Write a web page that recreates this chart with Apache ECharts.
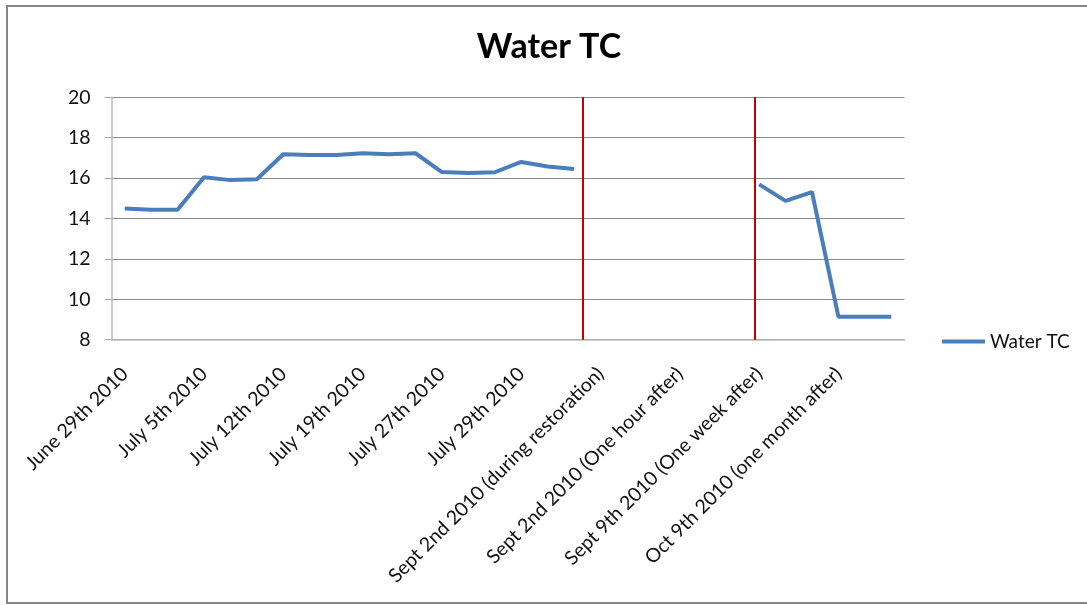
<!DOCTYPE html>
<html>
<head>
<meta charset="utf-8">
<script src="https://cdn.jsdelivr.net/npm/echarts@6/dist/echarts.min.js"></script>
<style>
    html, body { margin: 0; padding: 0; background: #fff; }
    #chart { width: 1087px; height: 605px; }
</style>
</head>
<body>
<div id="chart"></div>
<script>
    // 30 sample points, only every third one is labelled on the axis
    const categories = [
        'June 29th 2010', '', '',
        'July 5th 2010', '', '',
        'July 12th 2010', '', '',
        'July 19th 2010', '', '',
        'July 27th 2010', '', '',
        'July 29th 2010', '', '',
        'Sept 2nd 2010 (during restoration)', '', '',
        'Sept 2nd 2010 (One hour after)', '', '',
        'Sept 9th 2010 (One week after)', '', '',
        'Oct 9th 2010 (one month after)', '', ''
    ]
    const waterTC = [
        14.49, 14.43, 14.43, 16.04, 15.9, 15.94,
        17.18, 17.14, 17.14, 17.23, 17.18, 17.23,
        16.3, 16.25, 16.29, 16.8, 16.57, 16.45,
        null, null, null, null, null, null,
        15.69, 14.87, 15.31, 9.14, 9.14, 9.14
    ]
    // red separators, in category-width units from the left edge
    const dividers = [17.84, 24.35]
    const yTicks = { min: 8, max: 20, interval: 2 }

    const font = 'Lato'
    const chart = echarts.init(document.getElementById('chart'))
    chart.setOption({
        animation: false,
        backgroundColor: '#fff',
        title: {
            text: 'Water TC',
            left: 544,
            textAlign: 'center',
            top: 25,
            textStyle: { fontFamily: font, fontWeight: 'bold', fontSize: 34, color: '#000' }
        },
        legend: {
            left: 937,
            top: 327,
            itemWidth: 43,
            itemHeight: 4,
            itemGap: 5,
            data: [{ name: 'Water TC', icon: 'rect' }],
            textStyle: { fontFamily: font, fontSize: 19, color: '#111' }
        },
        graphic: [{
            type: 'rect',
            shape: { x: 7, y: 6, width: 1100, height: 597 },
            style: { fill: 'none', stroke: '#868686', lineWidth: 2 },
            silent: true
        }],
        grid: { left: 111.5, right: 182.5, top: 97.3, bottom: 265.3 },
        xAxis: [{
            type: 'category',
            data: categories,
            boundaryGap: true,
            axisLine: { lineStyle: { color: '#bbb', width: 1.5 } },
            axisTick: { interval: 0, length: 6, lineStyle: { color: '#aaa' } },
            axisLabel: {
                interval: 2,
                rotate: 45,
                margin: 31,
                fontFamily: font,
                fontSize: 19.5,
                color: '#111'
            }
        }, {
            type: 'value',
            min: 0,
            max: 30,
            show: false
        }],
        yAxis: {
            type: 'value',
            min: yTicks.min,
            max: yTicks.max,
            interval: yTicks.interval,
            axisLine: { show: true, lineStyle: { color: '#bbb', width: 1.5 } },
            axisTick: { show: true, length: 7, lineStyle: { color: '#aaa' } },
            splitLine: { lineStyle: { color: '#8c8c8c' } },
            axisLabel: { margin: 21, fontFamily: font, fontSize: 19.5, color: '#111' }
        },
        series: [{
            name: 'Water TC',
            type: 'line',
            data: waterTC,
            connectNulls: false,
            symbol: 'none',
            color: '#4A7EBB',
            lineStyle: { width: 4, color: '#4A7EBB' },
            z: 3
        }, {
            name: 'dividers',
            type: 'line',
            xAxisIndex: 1,
            data: [],
            symbol: 'none',
            silent: true,
            markLine: {
                symbol: 'none',
                silent: true,
                label: { show: false },
                lineStyle: { color: '#C00000', width: 2, type: 'solid' },
                data: dividers.map(v => ({ xAxis: v }))
            },
            z: 4
        }]
    })
</script>
</body>
</html>
